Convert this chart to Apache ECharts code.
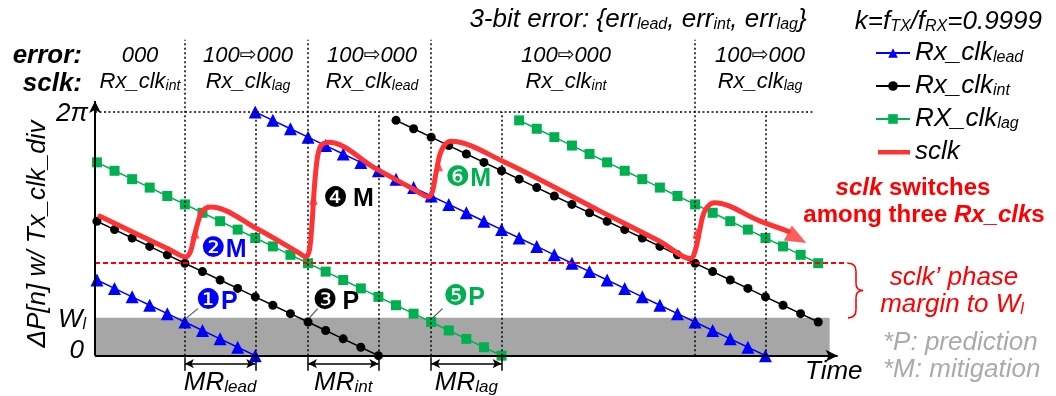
<!DOCTYPE html>
<html>
<head>
<meta charset="utf-8">
<script src="https://cdn.jsdelivr.net/npm/echarts@6/dist/echarts.min.js"></script>
<style>
html, body { margin: 0; padding: 0; background: #fff; }
#chart { width: 1056px; height: 396px; }
</style>
</head>
<body>
<div id="chart"></div>
<script>
// x = sample index n, y = phase in steps (29 steps = 2π)
const leadStart = [0, 9];
const leadPhase1 = [9, 8, 7, 6, 5, 4, 3, 2, 1, 0];
const leadPhase2 = [29, 28, 27, 26, 25, 24, 23, 22, 21, 20, 19, 18, 17, 16, 15, 14, 13, 12, 11, 10, 9, 8, 7, 6, 5, 4, 3, 2, 1, 0];
const intStart = [0, 17];
const intPhase1 = [16, 15, 14, 13, 12, 11, 10, 9, 8, 7, 6, 5, 4, 3, 2, 1, 0];
const intPhase2 = [28, 27, 26, 25, 24, 23, 22, 21, 20, 19, 18, 17, 16, 15, 14, 13, 12, 11, 10, 9, 8, 7, 6, 5, 4];
const lagStart = [0, 24];
const lagPhase1 = [23, 22, 21, 20, 19, 18, 17, 16, 15, 14, 13, 12, 11, 10, 9, 8, 7, 6, 5, 4, 3, 2, 1, 0];
const lagPhase2 = [28, 27, 26, 25, 24, 23, 22, 21, 20, 19, 18, 17, 16, 15, 14, 13, 12, 11];

// sclk path (switching between the three clocks)
const sclkN = [0.17, 4.15, 5.05, 5.3, 5.5, 5.72, 6.0, 6.45, 9.1, 11.5, 11.88, 12.08, 12.22, 12.42, 12.68, 13.15, 15.9, 18.0, 18.85, 19.08, 19.28, 19.58, 20.1, 23.1, 28.6, 32.0, 33.75, 34.02, 34.25, 34.55, 35.1, 37.7, 39.3];
const sclkV = [16.6, 12.6, 11.75, 12.3, 13.9, 15.7, 17.2, 17.7, 15.1, 12.2, 11.75, 12.6, 15.6, 21.5, 24.8, 25.4, 22.2, 19.8, 18.9, 19.6, 21.8, 24.4, 25.5, 23.1, 17.2, 13.6, 11.55, 12.6, 14.8, 17.2, 18.2, 16.0, 14.8];
const upArrowN = [5.57, 12.3, 19.42, 34.1];
const upArrowV = [14.6, 18.6, 22.6, 14.6];
const endArrow = [39.8, 14.0];

const twoPi = 29;
const wl = 4.5;
const marginLevel = 11;
const sectionEdges = [5, 12, 19, 34];
const mrEdges = [9, 16, 23, 38];
const mrLabels = ['lead', 'int', 'lag'];
const errorCodes = ['000', '100⇨000', '100⇨000', '100⇨000', '100⇨000'];
const sclkSubs = ['int', 'lag', 'lead', 'int', 'lag'];
const headerX = [140, 248, 372, 566, 760];

const FONT = '"Liberation Sans", Arial, sans-serif';
const SYM = '"DejaVu Sans", sans-serif';
const BLUE = '#0000ff';
const GREEN = '#00b050';
const RED = '#ff0000';

function seg(start, vals) {
    return vals.map((v, i) => [start + i, v]);
}

function withBreak(a, b) {
    return a.concat([[b[0][0], '-']], b);
}

const leadData = withBreak(seg(leadStart[0], leadPhase1), seg(leadStart[1], leadPhase2));
const intData = withBreak(seg(intStart[0], intPhase1), seg(intStart[1], intPhase2));
const lagData = withBreak(seg(lagStart[0], lagPhase1), seg(lagStart[1], lagPhase2));
const sclkData = sclkN.map((n, i) => [n, sclkV[i]]);

function markLines(name, lines, style, symbol, symbolSize) {
    return {
        type: 'line',
        name: name,
        data: [],
        silent: true,
        z: 3,
        markLine: {
            silent: true,
            animation: false,
            symbol: symbol || ['none', 'none'],
            symbolSize: symbolSize || 8,
            label: { show: false },
            emphasis: { disabled: true },
            lineStyle: style,
            data: lines.map(l => [{ coord: [l[0], l[1]] }, { coord: [l[2], l[3]] }])
        }
    };
}

const xLeft = -0.11;
const axisLines = [[xLeft, 0, 42.1, 0], [xLeft, 0, xLeft, 30.3]];
const dotted = [[xLeft, twoPi, 40.7, twoPi]]
    .concat(sectionEdges.map(n => [n, 0, n, 37.6]))
    .concat(mrEdges.map(n => [n, 0, n, twoPi]));
const mrArrows = mrLabels.map((s, i) => [sectionEdges[i], -0.95, mrEdges[i], -0.95]);
const mrBars = [];
mrLabels.forEach((s, i) => {
    mrBars.push([sectionEdges[i], -0.2, sectionEdges[i], -1.8]);
    mrBars.push([mrEdges[i], -0.2, mrEdges[i], -1.8]);
});
const leaders = [[5.74, 5.6, 5.1, 4.5], [12.55, 5.6, 12.08, 4.5], [19.65, 5.6, 19.08, 4.5]];

const chart = echarts.init(document.getElementById('chart'));

function rich(size, sub, color, weight) {
    return {
        m: { fontSize: size, fontStyle: 'italic', fontWeight: weight || 'normal', fontFamily: FONT, fill: color, color: color },
        s: { fontSize: sub, fontStyle: 'italic', fontWeight: weight || 'normal', fontFamily: FONT, fill: color, color: color, verticalAlign: 'bottom' },
        a: { fontSize: size - 2, fontFamily: SYM, fill: color, color: color },
        c: { fontSize: 28, fontFamily: SYM, fill: color, color: color },
        b: { fontSize: size, fontWeight: 'bold', fontFamily: FONT, fill: color, color: color },
        bi: { fontSize: size, fontWeight: 'bold', fontStyle: 'italic', fontFamily: FONT, fill: color, color: color }
    };
}

const legendNames = { lead: ['Rx_clk', 'lead'], int: ['Rx_clk', 'int'], lag: ['RX_clk', 'lag'], sclk: ['sclk', ''] };

const option = {
    animation: false,
    grid: { left: 95, right: 185, top: 38, bottom: 0 },
    xAxis: { type: 'value', min: xLeft, max: 44, show: false },
    yAxis: { type: 'value', min: -4.8, max: 37.8, show: false },
    legend: {
        data: ['lead', 'int', 'lag', {
            name: 'sclk',
            icon: 'path://M0,0L0,0M0,12L0,12M2,4L34,4L34,8.5L2,8.5Z'
        }],
        orient: 'vertical',
        left: 870,
        top: 35,
        itemWidth: 34,
        itemHeight: 12,
        itemGap: 7,
        selectedMode: false,
        formatter: name => legendNames[name][1]
            ? '{m|' + legendNames[name][0] + '}{s|' + legendNames[name][1] + '}'
            : '{m|' + legendNames[name][0] + '}',
        textStyle: { fontFamily: FONT, fontStyle: 'italic', fontSize: 26, color: '#000', rich: rich(26, 16, '#000') }
    },
    series: [
        {
            type: 'line', name: 'grey', data: [], silent: true, z: 1,
            markArea: {
                silent: true,
                itemStyle: { color: '#a6a6a6' },
                data: [[{ coord: [xLeft, 0] }, { coord: [41.65, wl] }]]
            }
        },
        markLines('dotted', dotted, { color: '#000', width: 1.5, type: [2, 2.5] }),
        markLines('margin', [[xLeft, marginLevel, 42.67, marginLevel]], { color: RED, width: 2, type: [5, 3] }),
        markLines('axes', axisLines, { color: '#000', width: 2, type: 'solid' }, ['none', 'arrow'], [9, 12]),
        markLines('mr', mrArrows, { color: '#000', width: 1.5, type: 'solid' }, ['arrow', 'arrow'], [7, 9]),
        markLines('bars', mrBars, { color: '#000', width: 1.5, type: 'solid' }),
        markLines('leaders', leaders, { color: '#555', width: 1.2, type: 'solid' }),
        {
            type: 'line', name: 'lead', data: leadData, z: 4,
            symbol: 'triangle', symbolSize: 13, showAllSymbol: true,
            itemStyle: { color: BLUE }, lineStyle: { color: BLUE, width: 1.5 }
        },
        {
            type: 'line', name: 'int', data: intData, z: 4,
            symbol: 'circle', symbolSize: 9, showAllSymbol: true,
            itemStyle: { color: '#000' }, lineStyle: { color: '#000', width: 1.5 }
        },
        {
            type: 'line', name: 'lag', data: lagData, z: 4,
            symbol: 'rect', symbolSize: 10, showAllSymbol: true,
            itemStyle: { color: GREEN }, lineStyle: { color: GREEN, width: 1.5 }
        },
        {
            type: 'line', name: 'sclk', data: sclkData, z: 6,
            symbol: 'none', smooth: 0.35,
            itemStyle: { color: '#ff3333' },
            lineStyle: { color: '#ff3333', width: 5, cap: 'round', join: 'round' }
        },
        {
            type: 'scatter', name: 'arrows', z: 7, silent: true,
            itemStyle: { color: '#ff3333' },
            data: upArrowN.map((n, i) => ({ value: [n, upArrowV[i]], symbol: 'triangle', symbolSize: [9, 11] }))
                .concat([{ value: endArrow, symbol: 'triangle', symbolSize: [17, 21], symbolRotate: -118 }])
        }
    ]
};

chart.setOption(option);

function at(n, v) {
    return chart.convertToPixel({ gridIndex: 0 }, [n, v]);
}

function T(x, y, text, o) {
    o = o || {};
    const color = o.color || '#000';
    const size = o.size || 26;
    return {
        type: 'text', x: x, y: y, rotation: o.rot || 0, silent: true, z: 100,
        style: {
            text: text,
            align: o.align || 'left',
            verticalAlign: 'middle',
            fontSize: size,
            fontStyle: o.italic === false ? 'normal' : 'italic',
            fontWeight: o.bold ? 'bold' : 'normal',
            fontFamily: FONT,
            fill: color,
            rich: rich(size, o.sub || Math.round(size * 0.62), color, o.bold ? 'bold' : 'normal')
        }
    };
}

const g = [];
// header
g.push(T(82, 56, 'error:', { bold: true, align: 'right' }));
g.push(T(82, 84, 'sclk:', { bold: true, align: 'right' }));
errorCodes.forEach((c, i) => {
    const parts = c.split('⇨');
    const t = parts.length > 1 ? '{m|' + parts[0] + '}{a|⇨}{m|' + parts[1] + '}' : '{m|' + c + '}';
    g.push(T(headerX[i], 56, t, { size: 22, align: 'center' }));
});
sclkSubs.forEach((s, i) => {
    g.push(T(headerX[i], 82, '{m|Rx_clk}{s|' + s + '}', { size: 22, sub: 14, align: 'center' }));
});
g.push(T(638, 20, '{m|3-bit error: {err}{s|lead}{m|, err}{s|int}{m|, err}{s|lag}}', { size: 26, sub: 16, align: 'center' }));
g.push(T(1042, 22, '{m|k=f}{s|TX}{m|/f}{s|RX}{m|=0.9999}', { size: 26, sub: 16, align: 'right' }));

// y axis labels and title
g.push(T(88, at(0, twoPi)[1] + 2, '2π', { align: 'right' }));
g.push(T(86, at(0, wl)[1] + 2, '{m|W}{s|l}', { align: 'right', sub: 16 }));
g.push(T(84, at(0, 0)[1] - 5, '0', { align: 'right' }));
g.push(T(38, 234, 'ΔP[n] w/ Tx_clk_div', { align: 'center', rot: Math.PI / 2 }));
g.push(T(805, 372, 'Time', {}));

// MR labels
mrLabels.forEach((s, i) => {
    const p = at((sectionEdges[i] + mrEdges[i]) / 2, -3.2);
    g.push(T(p[0], p[1], '{m|MR}{s|' + s + '}', { align: 'center', sub: 17 }));
});

// step annotations
const notes = [
    [5.62, 6.4, '{c|❶}{b|P}', BLUE],
    [5.9, 12.6, '{c|❷}{b|M}', BLUE],
    [12.25, 6.4, '{c|❸}{b|\u2009P}', '#000'],
    [12.85, 18.6, '{c|❹}{b|\u2009M}', '#000'],
    [19.68, 6.9, '{c|❺}{b|P}', GREEN],
    [19.8, 21.0, '{c|❻}{b|M}', GREEN]
];
notes.forEach(a => {
    const p = at(a[0], a[1]);
    g.push(T(p[0], p[1], a[2], { color: a[3], size: 25 }));
});

// right side notes
g.push(T(913, 188, '{bi|sclk}{b| switches}', { color: RED, size: 24, align: 'center' }));
g.push(T(924, 215, '{b|among three }{bi|Rx_clk}{b|s}', { color: RED, size: 24, align: 'center' }));
g.push(T(954, 278, 'sclk\u2019 phase', { color: RED, align: 'center' }));
g.push(T(952, 305, '{m|margin to W}{s|l}', { color: RED, align: 'center', sub: 16 }));
g.push(T(883, 343, '*P: prediction', { color: '#aaaaaa' }));
g.push(T(883, 370, '*M: mitigation', { color: '#aaaaaa' }));

// brace
const bt = at(42.67, marginLevel)[1];
const bb = at(42.67, wl)[1];
const bm = (bt + bb) / 2;
const braceStyle = { fill: 'none', stroke: RED, lineWidth: 1.6 };
[
    { x1: 848, y1: bt, x2: 856, y2: bt + 8, cpx1: 856, cpy1: bt },
    { x1: 856, y1: bm - 7, x2: 863, y2: bm, cpx1: 856, cpy1: bm },
    { x1: 863, y1: bm, x2: 856, y2: bm + 7, cpx1: 856, cpy1: bm },
    { x1: 856, y1: bb - 8, x2: 848, y2: bb, cpx1: 856, cpy1: bb }
].forEach(s => g.push({ type: 'bezierCurve', silent: true, z: 100, shape: s, style: braceStyle }));
g.push({ type: 'line', silent: true, z: 100, shape: { x1: 856, y1: bt + 8, x2: 856, y2: bm - 7 }, style: braceStyle });
g.push({ type: 'line', silent: true, z: 100, shape: { x1: 856, y1: bm + 7, x2: 856, y2: bb - 8 }, style: braceStyle });

chart.setOption({ graphic: g });
</script>
</body>
</html>
